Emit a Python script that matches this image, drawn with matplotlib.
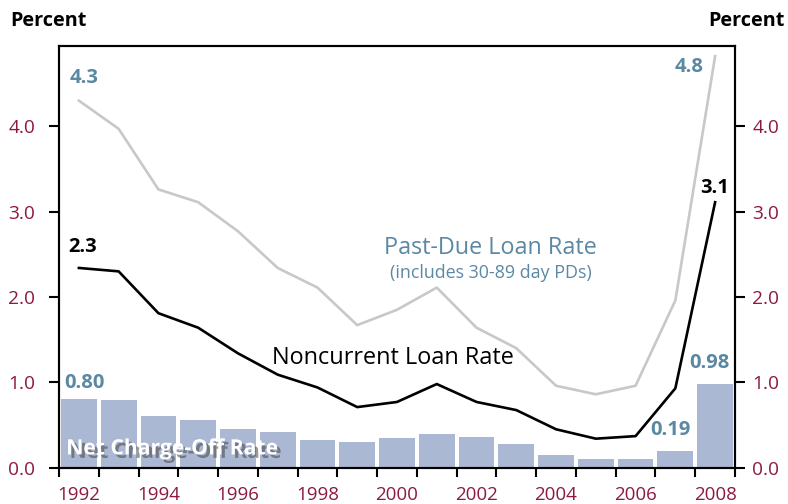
import matplotlib
matplotlib.use("Agg")
import matplotlib.pyplot as plt
import matplotlib.patheffects as pe
import numpy as np

plt.rcParams['font.family'] = ['Open Sans', 'DejaVu Sans']

years = list(range(1992, 2009))
net_charge_off = [0.80, 0.79, 0.605, 0.56, 0.45, 0.42, 0.33, 0.30, 0.35, 0.395,
                  0.36, 0.28, 0.15, 0.10, 0.10, 0.19, 0.98]
past_due = [4.30, 3.97, 3.26, 3.11, 2.77, 2.34, 2.11, 1.67, 1.85, 2.11,
            1.64, 1.40, 0.96, 0.86, 0.96, 1.96, 4.82]
noncurrent = [2.34, 2.30, 1.81, 1.64, 1.34, 1.09, 0.94, 0.71, 0.77, 0.98,
              0.77, 0.675, 0.45, 0.34, 0.37, 0.93, 3.11]
y_ticks = [0.0, 1.0, 2.0, 3.0, 4.0]
x_tick_years = [1992, 1994, 1996, 1998, 2000, 2002, 2004, 2006, 2008]

BAR = '#abb8d3'
STEEL = '#5b88a3'
MAROON = '#8c1a40'
GRAY = '#c8c8c8'

fig = plt.figure(figsize=(7.88, 5.04), dpi=100)
ax = fig.add_axes([59/788, 36.3/504, 676/788, 421.7/504])

x = np.array(years) + 0.5
ax.bar(x, net_charge_off, width=0.9, color=BAR, zorder=1)
ax.plot(x, past_due, color=GRAY, lw=1.9, zorder=2)
ax.plot(x, noncurrent, color='black', lw=1.9, zorder=3)

ax.set_xlim(1992, 2009)
ax.set_ylim(0, 4.94)

ax.set_yticks(y_ticks)
ax.set_yticklabels([f"{v:.1f}" for v in y_ticks])
ax.tick_params(axis='y', which='both', direction='out', length=7, width=1.5,
               colors='black', labelcolor=MAROON, labelsize=13.8, pad=10)

ax2 = ax.twinx()
ax2.set_ylim(ax.get_ylim())
ax2.set_yticks(y_ticks)
ax2.set_yticklabels([f"{v:.1f}" for v in y_ticks])
ax2.tick_params(axis='y', direction='out', length=7, width=1.5,
                colors='black', labelcolor=MAROON, labelsize=13.8, pad=5.5)

ax.set_xticks([y + 0.5 for y in x_tick_years])
ax.set_xticklabels([str(y) for y in x_tick_years])
ax.set_xticks(np.arange(1992, 2010), minor=True)
ax.tick_params(axis='x', which='major', length=0, labelcolor=MAROON, labelsize=13.5, pad=13.5)
ax.tick_params(axis='x', which='minor', length=6.5, width=1.5, direction='out', colors='black')

for a in (ax, ax2):
    for s in a.spines.values():
        s.set_linewidth(1.5)

fig.text(10/788, 1 - 21/504, 'Percent', fontsize=14.3, fontweight='bold', ha='left', va='center')
fig.text(785/788, 1 - 21/504, 'Percent', fontsize=14.3, fontweight='bold', ha='right', va='center')

# value labels
lab = dict(textcoords='offset points', fontsize=14.5, fontweight='bold', ha='center', va='center')
ax.annotate('4.3', (x[0], past_due[0]), xytext=(3.6, 16.2), color=STEEL, **lab)
ax.annotate('4.8', (x[-1], past_due[-1]), xytext=(-19, -8), color=STEEL, **lab)
ax.annotate('2.3', (x[0], noncurrent[0]), xytext=(2.9, 15.1), color='black', **lab)
ax.annotate('3.1', (x[-1], noncurrent[-1]), xytext=(0, 10), color='black', **lab)
ax.annotate('0.80', (x[0], net_charge_off[0]), xytext=(4, 11.8), color=STEEL, **lab)
ax.annotate('0.19', (x[-2], net_charge_off[-2]), xytext=(-3.5, 15.5), color=STEEL, **lab)
ax.annotate('0.98', (x[-1], net_charge_off[-1]), xytext=(-4.3, 15.3), color=STEEL, **lab)

# series labels
ax.text(2002.84, 2.57, 'Past-Due Loan Rate', color=STEEL, fontsize=16.8, ha='center', va='center')
ax.text(2002.87, 2.28, '(includes 30-89 day PDs)', color=STEEL, fontsize=12.9, ha='center', va='center')
ax.text(2000.4, 1.28, 'Noncurrent Loan Rate', color='black', fontsize=16.9, ha='center', va='center')
ax.text(1992.18, 0.22, 'Net Charge-Off Rate', color='white', fontsize=15.2, fontweight='bold',
        ha='left', va='center', zorder=5,
        path_effects=[pe.withSimplePatchShadow(offset=(2.5, -2.5), shadow_rgbFace='#444444', alpha=0.55)])

fig.savefig('out.png', dpi=100)
